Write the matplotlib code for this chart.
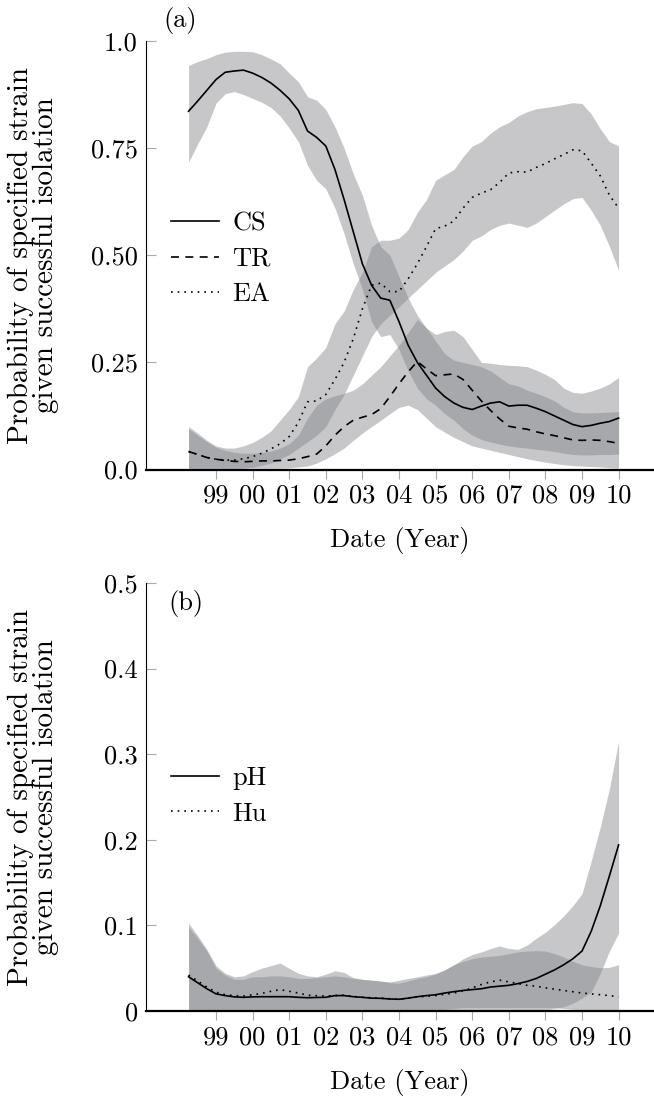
"""
Strain probabilities over time, two stacked panels with credible bands
"""
import numpy as np
import matplotlib
matplotlib.use("Agg")
import matplotlib.pyplot as plt

plt.rcParams['font.family'] = 'serif'
plt.rcParams['font.serif'] = ['cmr10', 'DejaVu Serif']
plt.rcParams['mathtext.fontset'] = 'cm'
plt.rcParams['axes.unicode_minus'] = False
plt.rcParams['axes.formatter.use_mathtext'] = True

# quarter-year grid, 1998.25 .. 2010.0
years = np.arange(1998.25, 2010.01, 0.25)

# panel (a)
cs_mean = [0.836, 0.86, 0.885, 0.91, 0.927, 0.930, 0.932, 0.925, 0.915, 0.902, 0.885, 0.865,
           0.838, 0.79, 0.775, 0.755, 0.70, 0.63, 0.555, 0.48, 0.43, 0.40, 0.395, 0.345,
           0.29, 0.25, 0.22, 0.19, 0.17, 0.155, 0.145, 0.14, 0.148, 0.155, 0.158, 0.148,
           0.150, 0.150, 0.143, 0.135, 0.125, 0.115, 0.105, 0.100, 0.103, 0.108, 0.112, 0.120]
cs_hi = [0.943, 0.952, 0.959, 0.968, 0.974, 0.976, 0.976, 0.975, 0.968, 0.958, 0.947, 0.925,
         0.905, 0.87, 0.862, 0.84, 0.80, 0.75, 0.69, 0.64, 0.57, 0.52, 0.50, 0.45,
         0.40, 0.36, 0.33, 0.315, 0.322, 0.325, 0.31, 0.28, 0.25, 0.248, 0.245, 0.243,
         0.242, 0.240, 0.232, 0.222, 0.21, 0.19, 0.18, 0.178, 0.183, 0.19, 0.20, 0.215]
cs_lo = [0.717, 0.76, 0.80, 0.855, 0.877, 0.882, 0.875, 0.866, 0.857, 0.845, 0.825, 0.797,
         0.765, 0.71, 0.675, 0.655, 0.61, 0.55, 0.48, 0.42, 0.345, 0.31, 0.315, 0.28,
         0.23, 0.19, 0.165, 0.15, 0.13, 0.115, 0.095, 0.08, 0.07, 0.064, 0.059, 0.055,
         0.052, 0.05, 0.047, 0.045, 0.042, 0.038, 0.035, 0.034, 0.034, 0.035, 0.035, 0.036]

tr_mean = [0.042, 0.035, 0.028, 0.024, 0.021, 0.019, 0.018, 0.019, 0.02, 0.02, 0.021, 0.022,
           0.025, 0.03, 0.036, 0.055, 0.08, 0.10, 0.115, 0.122, 0.128, 0.142, 0.17, 0.20,
           0.228, 0.252, 0.235, 0.219, 0.221, 0.223, 0.210, 0.185, 0.16, 0.138, 0.118, 0.101,
           0.097, 0.094, 0.088, 0.083, 0.079, 0.074, 0.069, 0.068, 0.069, 0.068, 0.065, 0.061]
tr_hi = [0.095, 0.08, 0.065, 0.052, 0.045, 0.04, 0.038, 0.038, 0.04, 0.043, 0.05, 0.06,
         0.08, 0.12, 0.15, 0.165, 0.172, 0.178, 0.185, 0.20, 0.22, 0.24, 0.265, 0.29,
         0.32, 0.35, 0.33, 0.30, 0.27, 0.255, 0.25, 0.245, 0.24, 0.23, 0.215, 0.20,
         0.195, 0.185, 0.178, 0.17, 0.16, 0.145, 0.135, 0.132, 0.132, 0.133, 0.134, 0.135]
tr_lo = [0.003, 0.003, 0.003, 0.003, 0.003, 0.003, 0.003, 0.003, 0.003, 0.003, 0.003, 0.004,
         0.006, 0.008, 0.015, 0.025, 0.037, 0.05, 0.068, 0.085, 0.10, 0.115, 0.13, 0.145,
         0.15, 0.14, 0.12, 0.10, 0.087, 0.075, 0.065, 0.055, 0.05, 0.045, 0.04, 0.035,
         0.03, 0.025, 0.021, 0.017, 0.014, 0.011, 0.009, 0.008, 0.007, 0.006, 0.004, 0.003]

ea_mean = [0.042, 0.035, 0.028, 0.024, 0.022, 0.022, 0.025, 0.03, 0.038, 0.048, 0.06, 0.077,
           0.11, 0.158, 0.16, 0.175, 0.21, 0.25, 0.305, 0.375, 0.43, 0.435, 0.415, 0.415,
           0.445, 0.48, 0.52, 0.562, 0.568, 0.58, 0.61, 0.635, 0.645, 0.653, 0.67, 0.692,
           0.695, 0.694, 0.705, 0.714, 0.725, 0.735, 0.746, 0.744, 0.715, 0.685, 0.64, 0.61]
ea_hi = [0.10, 0.085, 0.068, 0.055, 0.05, 0.05, 0.055, 0.063, 0.075, 0.09, 0.115, 0.14,
         0.17, 0.24, 0.26, 0.285, 0.34, 0.37, 0.42, 0.46, 0.52, 0.535, 0.535, 0.54,
         0.56, 0.60, 0.63, 0.675, 0.688, 0.70, 0.73, 0.755, 0.765, 0.785, 0.80, 0.81,
         0.825, 0.835, 0.842, 0.845, 0.848, 0.852, 0.856, 0.854, 0.83, 0.795, 0.765, 0.755]
ea_lo = [0.0, 0.0, 0.0, 0.0, 0.0, 0.001, 0.003, 0.005, 0.01, 0.015, 0.025, 0.035,
         0.05, 0.065, 0.08, 0.10, 0.14, 0.175, 0.22, 0.265, 0.31, 0.34, 0.36, 0.38,
         0.40, 0.42, 0.44, 0.46, 0.475, 0.49, 0.51, 0.535, 0.545, 0.56, 0.57, 0.575,
         0.57, 0.565, 0.575, 0.59, 0.605, 0.62, 0.632, 0.635, 0.605, 0.57, 0.52, 0.465]

# panel (b)
ph_mean = [0.040, 0.033, 0.026, 0.020, 0.018, 0.0165, 0.016, 0.0165, 0.0167, 0.0167, 0.0167, 0.0167,
           0.016, 0.0155, 0.0158, 0.016, 0.018, 0.018, 0.0167, 0.016, 0.015, 0.0148, 0.014, 0.0137,
           0.015, 0.0167, 0.018, 0.019, 0.021, 0.0226, 0.024, 0.025, 0.026, 0.028, 0.029, 0.030,
           0.032, 0.0345, 0.038, 0.043, 0.048, 0.054, 0.061, 0.070, 0.093, 0.123, 0.158, 0.194]
ph_hi = [0.098, 0.085, 0.070, 0.050, 0.042, 0.037, 0.037, 0.040, 0.040, 0.041, 0.041, 0.040,
         0.038, 0.038, 0.039, 0.040, 0.041, 0.040, 0.038, 0.037, 0.036, 0.035, 0.034, 0.036,
         0.038, 0.040, 0.042, 0.044, 0.048, 0.054, 0.061, 0.066, 0.069, 0.073, 0.076, 0.073,
         0.072, 0.077, 0.085, 0.092, 0.101, 0.111, 0.123, 0.137, 0.175, 0.215, 0.26, 0.315]
ph_lo = [0.0, 0.0, 0.0, 0.0, 0.0, 0.0, 0.0, 0.0, 0.0, 0.0, 0.0, 0.0,
         0.0, 0.0, 0.0, 0.0, 0.0, 0.0, 0.0, 0.0, 0.0, 0.0, 0.0, 0.0,
         0.0, 0.0, 0.0, 0.0, 0.0, 0.0, 0.0, 0.0, 0.0, 0.0, 0.0, 0.0,
         0.0, 0.0, 0.0, 0.001, 0.003, 0.005, 0.009, 0.015, 0.022, 0.044, 0.07, 0.091]

hu_mean = [0.042, 0.035, 0.028, 0.022, 0.019, 0.018, 0.0175, 0.019, 0.0205, 0.023, 0.025, 0.023,
           0.021, 0.0185, 0.0178, 0.0175, 0.018, 0.0185, 0.017, 0.016, 0.0155, 0.015, 0.0143, 0.0137,
           0.015, 0.0165, 0.017, 0.018, 0.0195, 0.021, 0.0235, 0.027, 0.031, 0.034, 0.036, 0.034,
           0.032, 0.030, 0.029, 0.027, 0.0255, 0.024, 0.0225, 0.021, 0.020, 0.019, 0.018, 0.0167]
hu_hi = [0.1025, 0.088, 0.072, 0.053, 0.044, 0.040, 0.041, 0.046, 0.050, 0.053, 0.056, 0.050,
         0.044, 0.041, 0.040, 0.043, 0.047, 0.045, 0.039, 0.037, 0.036, 0.035, 0.033, 0.0325,
         0.035, 0.038, 0.040, 0.043, 0.048, 0.054, 0.058, 0.061, 0.063, 0.064, 0.065, 0.067,
         0.069, 0.070, 0.0705, 0.070, 0.067, 0.063, 0.058, 0.054, 0.052, 0.0505, 0.051, 0.054]
hu_lo = [0.001, 0.001, 0.001, 0.001, 0.001, 0.001, 0.001, 0.001, 0.001, 0.001, 0.001, 0.001,
         0.001, 0.001, 0.001, 0.001, 0.001, 0.001, 0.001, 0.001, 0.001, 0.001, 0.001, 0.001,
         0.001, 0.001, 0.001, 0.001, 0.002, 0.003, 0.004, 0.004, 0.004, 0.004, 0.004, 0.004,
         0.004, 0.004, 0.004, 0.004, 0.004, 0.003, 0.002, 0.001, 0.001, 0.001, 0.001, 0.001]

tick_years = np.arange(1999, 2011)
tick_labels = ['99', '00', '01', '02', '03', '04', '05', '06', '07', '08', '09', '10']

BAND = '#808185'
TICK_GREY = '#a8a8a8'
FS = 19
YLABEL = 'Probability of specified strain\ngiven successful isolation'


def style_axes(ax, yticks, yticklabels, ymax):
    ax.set_xlim(1997.087, 2010.967)
    ax.set_ylim(0, ymax)
    for side in ('top', 'right'):
        ax.spines[side].set_visible(False)
    ax.spines['left'].set_linewidth(0.8)
    ax.spines['bottom'].set_linewidth(1.6)
    ax.set_xticks(tick_years)
    ax.set_xticklabels(tick_labels, fontsize=FS)
    ax.set_yticks(yticks)
    ax.set_yticklabels(yticklabels, fontsize=FS)
    ax.tick_params(axis='x', direction='out', length=6.5, width=0.8, color=TICK_GREY, pad=4)
    ax.tick_params(axis='y', direction='in', length=7, width=0.8, color=TICK_GREY, pad=6)
    ax.set_xlabel('Date (Year)', fontsize=FS, labelpad=14)
    ax.set_ylabel(YLABEL, fontsize=21, linespacing=0.9)
    ax.yaxis.set_label_coords(-0.172, 0.5)


def band_line(ax, lo, hi, mean, ls, label):
    ax.fill_between(years, lo, hi, color=BAND, alpha=0.44, lw=0)
    ln, = ax.plot(years, mean, color='black', lw=1.2, linestyle=ls, label=label)
    return ln


fig = plt.figure(figsize=(6.54, 10.97), dpi=100)
ax1 = fig.add_axes([146 / 654, 1 - 469.5 / 1097, 1 - 146 / 654, 428.5 / 1097])
ax2 = fig.add_axes([146 / 654, 1 - 1011 / 1097, 1 - 146 / 654, 428 / 1097])

DASH = (0, (4.8, 3.8))
DOT = (0, (1.0, 3.0))

h1 = band_line(ax1, cs_lo, cs_hi, cs_mean, '-', 'CS')
h2 = band_line(ax1, tr_lo, tr_hi, tr_mean, DASH, 'TR')
h3 = band_line(ax1, ea_lo, ea_hi, ea_mean, DOT, 'EA')
style_axes(ax1, [0, 0.25, 0.5, 0.75, 1.0], ['0.0', '0.25', '0.50', '0.75', '1.0'], 1.0)
ax1.legend(handles=[h1, h2, h3], loc='upper left', bbox_to_anchor=(0.05, 0.602),
           frameon=False, fontsize=FS, handlelength=1.8, handletextpad=0.5,
           labelspacing=0.45, borderpad=0, borderaxespad=0)
ax1.text(0.067, 1.049, '(a)', transform=ax1.transAxes, fontsize=FS, ha='center', va='center')

g1 = band_line(ax2, ph_lo, ph_hi, ph_mean, '-', 'pH')
g2 = band_line(ax2, hu_lo, hu_hi, hu_mean, DOT, 'Hu')
style_axes(ax2, [0, 0.1, 0.2, 0.3, 0.4, 0.5], ['0', '0.1', '0.2', '0.3', '0.4', '0.5'], 0.5)
ax2.legend(handles=[g1, g2], loc='upper left', bbox_to_anchor=(0.05, 0.572),
           frameon=False, fontsize=FS, handlelength=1.8, handletextpad=0.5,
           labelspacing=0.45, borderpad=0, borderaxespad=0)
ax2.text(0.079, 0.951, '(b)', transform=ax2.transAxes, fontsize=FS, ha='center', va='center')

fig.savefig('out.png', dpi=100)
